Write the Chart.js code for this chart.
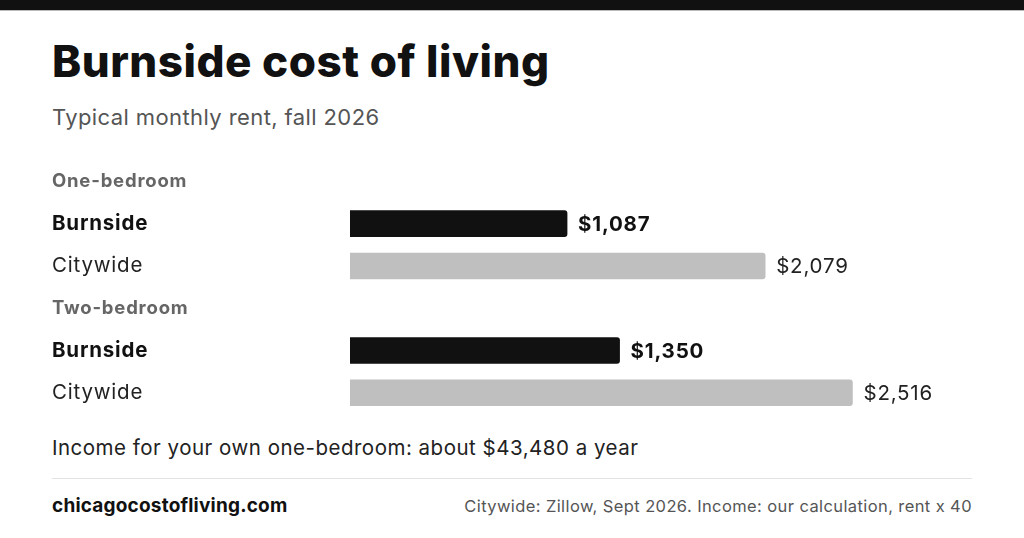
<!DOCTYPE html>
<html>
<head>
<meta charset="utf-8">
<script src="https://cdn.jsdelivr.net/npm/chart.js@4"></script>
<style>
  html, body { margin: 0; padding: 0; background: #fff; }
  body { width: 1024px; height: 538px; position: relative; overflow: hidden; font-family: Inter, sans-serif; color: #111; }
  .topband { position: absolute; left: 0; top: 0; width: 1024px; height: 10px; background: #111; border-bottom: 1px solid #bbb; }
  .title { position: absolute; left: 52px; top: 34px; font-size: 44px; font-weight: 800; letter-spacing: 0.5px; white-space: nowrap; }
  .subtitle { position: absolute; left: 52px; top: 104px; font-size: 22px; letter-spacing: 0.4px; color: #555; white-space: nowrap; }
  .chart-wrap { position: absolute; left: 0; top: 148px; width: 1024px; height: 277px; }
  .income { position: absolute; left: 52px; top: 435px; font-size: 20.5px; letter-spacing: 0.5px; color: #222; white-space: nowrap; }
  .rule { position: absolute; left: 52px; top: 478px; width: 920px; height: 1px; background: #e3e3e3; }
  .site { position: absolute; left: 52px; top: 494px; font-size: 19px; font-weight: 700; letter-spacing: 0.2px; white-space: nowrap; }
  .source { position: absolute; right: 52px; top: 496px; font-size: 16.5px; letter-spacing: 0.4px; color: #555; white-space: nowrap; }
</style>
</head>
<body>
<div class="topband"></div>
<div class="title">Burnside cost of living</div>
<div class="subtitle">Typical monthly rent, fall 2026</div>
<div class="chart-wrap"><canvas id="rentChart"></canvas></div>
<div class="income">Income for your own one-bedroom: about $43,480 a year</div>
<div class="rule"></div>
<div class="site">chicagocostofliving.com</div>
<div class="source">Citywide: Zillow, Sept 2026. Income: our calculation, rent x 40</div>

<script>
// rows, top to bottom; 'group' rows are headers with no bar
const categories = ['One-bedroom', 'Burnside', 'Citywide', 'Two-bedroom', 'Burnside', 'Citywide'];
const rowKinds = ['group', 'local', 'city', 'group', 'local', 'city'];
const rent = [null, 1087, 2079, null, 1350, 2516];
const xMax = 3250;

const FONT = 'Inter, sans-serif';

function rowFont(kind) {
    if (kind === 'group') return { family: FONT, size: 18.5, weight: '700' };
    if (kind === 'local') return { family: FONT, size: 20.5, weight: '700' };
    return { family: FONT, size: 20.5, weight: '400' };
}

function rowColor(kind) {
    if (kind === 'group') return '#666';
    if (kind === 'local') return '#111';
    return '#222';
}

// a bit of tracking so Inter runs as wide as the original typeface
const tracking = {
    id: 'tracking',
    beforeDraw(chart) { chart.ctx.letterSpacing = '0.8px'; },
};

const valueLabels = {
    id: 'valueLabels',
    afterDatasetsDraw(chart) {
        const ctx = chart.ctx;
        const meta = chart.getDatasetMeta(0);
        ctx.save();
        ctx.letterSpacing = '0.8px';
        ctx.textBaseline = 'middle';
        ctx.textAlign = 'left';
        meta.data.forEach((bar, i) => {
            if (rent[i] == null) return;
            const f = rowFont(rowKinds[i]);
            ctx.font = `${f.weight} ${f.size}px ${f.family}`;
            ctx.fillStyle = rowColor(rowKinds[i]);
            ctx.fillText('$' + rent[i].toLocaleString('en-US'), bar.x + 11, bar.y + 1);
        });
        ctx.restore();
    }
};

new Chart(document.getElementById('rentChart'), {
    type: 'bar',
    data: {
        labels: categories,
        datasets: [{
            data: rent,
            backgroundColor: rowKinds.map(k => k === 'local' ? '#111111' : '#bfbfbf'),
            borderWidth: 0,
            borderRadius: 3,
            borderSkipped: 'start',
            barThickness: 26,
        }],
    },
    options: {
        indexAxis: 'y',
        responsive: true,
        maintainAspectRatio: false,
        animation: false,
        layout: { padding: { left: 52, right: 25, top: 0, bottom: 0 } },
        plugins: {
            legend: { display: false },
            tooltip: { enabled: false },
        },
        scales: {
            x: { display: false, min: 0, max: xMax },
            y: {
                grid: { display: false },
                border: { display: false },
                afterFit(scale) { scale.width = 298; },
                ticks: {
                    crossAlign: 'far',
                    padding: 0,
                    font: c => rowFont(rowKinds[c.index]),
                    color: c => rowColor(rowKinds[c.index]),
                },
            },
        },
    },
    plugins: [tracking, valueLabels],
});
</script>
</body>
</html>
